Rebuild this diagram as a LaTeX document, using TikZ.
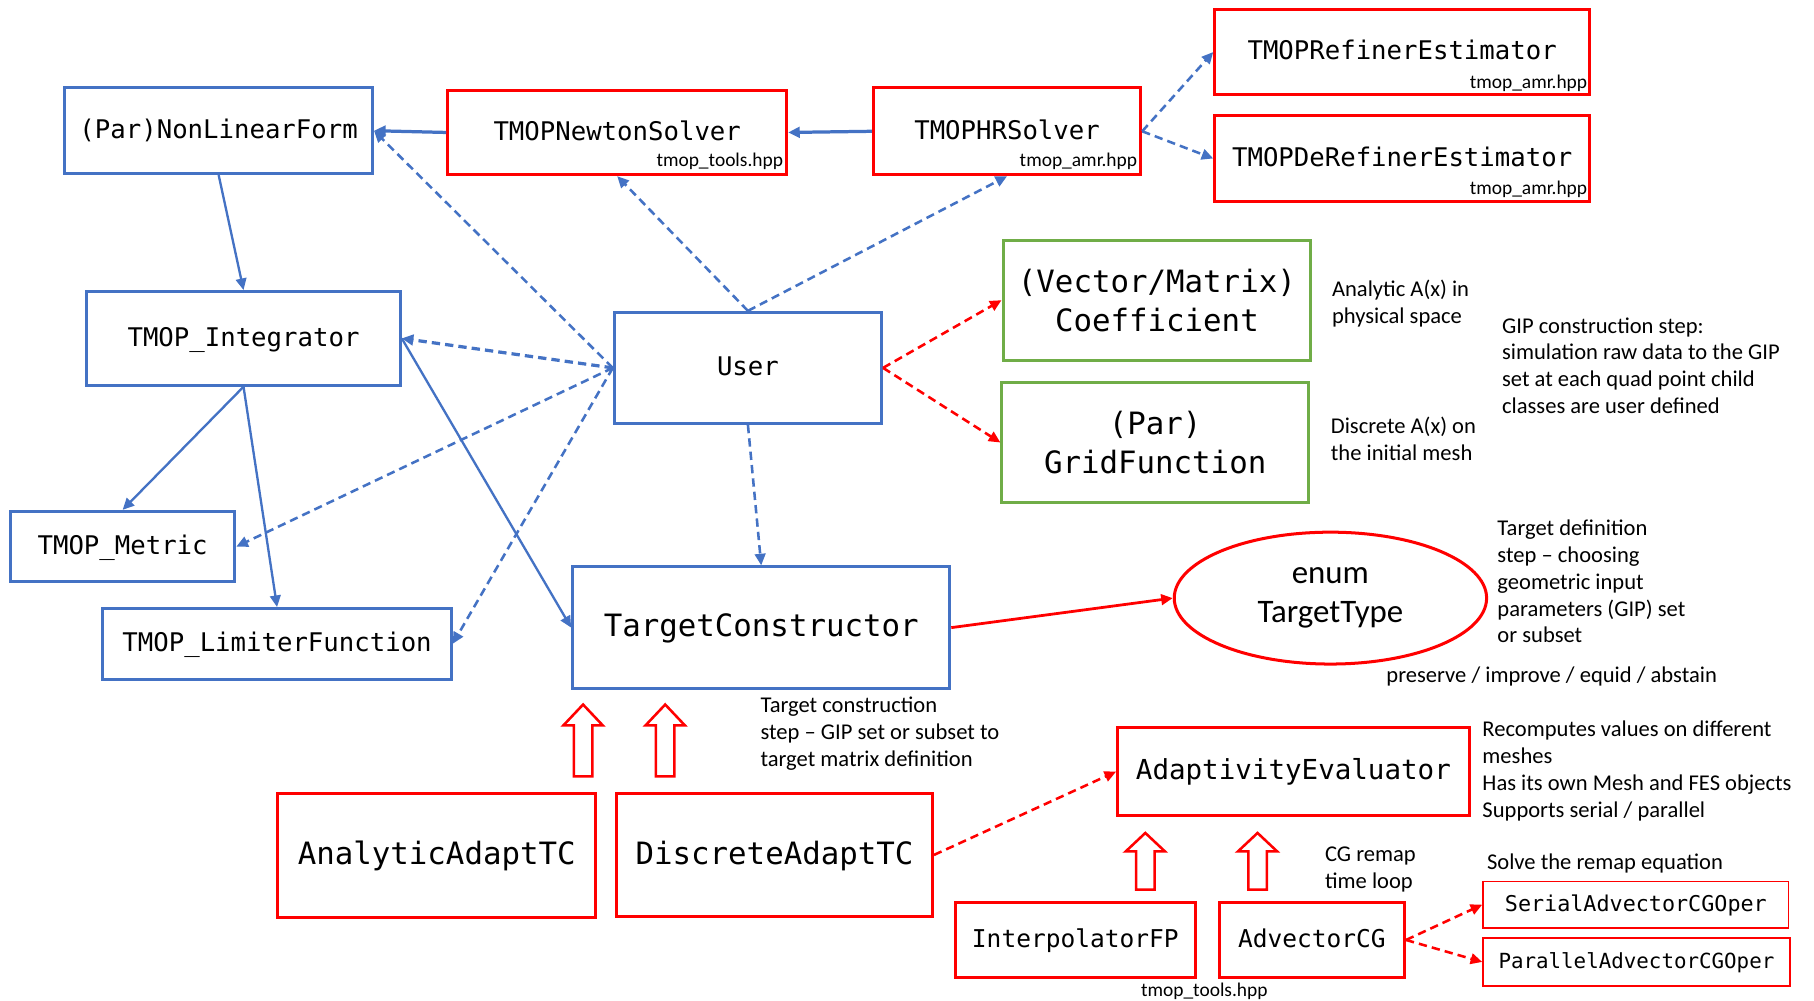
\documentclass[tikz,border=0pt]{standalone}
\usepackage{fontspec}
\setmainfont{Carlito}
\newfontfamily\codefont{DejaVu Sans Mono}
\usetikzlibrary{arrows.meta,shapes.geometric}

\definecolor{tblue}{RGB}{68,114,196}
\definecolor{tred}{RGB}{255,0,0}
\definecolor{tgreen}{RGB}{112,173,71}

% hollow block arrow pointing up: x, top, head base, bottom
\newcommand\blockup[4]{%
  \draw[tred, line width=1.1pt, line join=miter]
    (#1-8,#4) -- (#1-8,#3) -- (#1-17,#3) -- (#1,#2) -- (#1+17,#3)
    -- (#1+8,#3) -- (#1+8,#4) -- cycle;}

\begin{document}
\begin{tikzpicture}[x=0.5pt,y=-0.5pt,
  boxsize/.style 2 args={minimum width=#1*0.5pt, minimum height=#2*0.5pt},
  box/.style={draw, line width=1.3pt, inner sep=0pt, align=center, rectangle},
  bluebox/.style={box, draw=tblue},
  redbox/.style={box, draw=tred},
  greenbox/.style={box, draw=tgreen},
  % single-line code text: font size in pt, fixed line box
  code/.style={font=\codefont\fontsize{#1}{#1}\selectfont,
               text height=#1*0.78pt, text depth=#1*0.18pt},
  cmed/.style={code=11.1},
  clarge/.style={font=\codefont\fontsize{13.3}{17}\selectfont},
  file/.style={font=\fontsize{8.4}{10}\selectfont, inner sep=0pt},
  note/.style={font=\fontsize{9.75}{11.6}\selectfont, align=left, inner sep=0pt, anchor=north west},
  tip/.style={-{Triangle[length=5pt,width=4.6pt]}},
  bsolid/.style={tip, draw=tblue, line width=1pt},
  bdash/.style={tip, draw=tblue, line width=1.1pt, dash pattern=on 3.6pt off 2.2pt},
  rsolid/.style={tip, draw=tred, line width=1.2pt},
  rdash/.style={tip, draw=tred, line width=1.1pt, dash pattern=on 3.6pt off 2.2pt},
]
\fill[white] (0,0) rectangle (1568,865);
\useasboundingbox (0,0) rectangle (1568,865);

% ---- top row: forms and solvers
\node[bluebox, boxsize={266}{74}, cmed] (nlf) at (189,113) {(Par)NonLinearForm};
\node[redbox, boxsize={293}{73}, cmed] (newton) at (533.5,114.5) {TMOPNewtonSolver};
\node[redbox, boxsize={231}{75}, cmed] (hr) at (870.5,113.5) {TMOPHRSolver};
\node[redbox, boxsize={324}{74}, cmed] (refiner) at (1212,45) {TMOPRefinerEstimator};
\node[redbox, boxsize={324}{74}, cmed] (derefiner) at (1212,137) {TMOPDeRefinerEstimator};

\node[file, anchor=base east] (newtonfile) at ([shift={(-4,-8)}]newton.south east) {tmop\_tools.hpp};
\node[file, anchor=base east] (hrfile) at ([shift={(-4,-8)}]hr.south east) {tmop\_amr.hpp};
\node[file, anchor=base east] (refinerfile) at ([shift={(-3,-7)}]refiner.south east) {tmop\_amr.hpp};
\node[file, anchor=base east] (derefinerfile) at ([shift={(-3,-7)}]derefiner.south east) {tmop\_amr.hpp};

% ---- integrator side
\node[bluebox, boxsize={271}{81}, cmed] (integ) at (210.5,292.5) {TMOP\_Integrator};
\node[bluebox, boxsize={194}{61}, cmed] (metric) at (106,472.5) {TMOP\_Metric};
\node[bluebox, boxsize={301}{61}, cmed] (limiter) at (239.5,556.5) {TMOP\_LimiterFunction};

% ---- user and coefficients
\node[bluebox, boxsize={231}{96}, cmed] (user) at (646.5,318) {User};
\node[greenbox, boxsize={266}{104}, clarge] (coef) at (1000,259.5) {(Vector/Matrix)\\Coefficient};
\node[greenbox, boxsize={265}{104}, clarge] (grid) at (998.5,382.5) {(Par)\\GridFunction};

% ---- target construction
\node[bluebox, boxsize={326}{105}, code=13.3] (tc) at (658,542.5) {TargetConstructor};
\node[draw=tred, line width=1.3pt, ellipse, minimum width=135pt, minimum height=57pt,
      inner sep=0pt, align=center, font=\fontsize{14.2}{17}\selectfont] (ttype) at (1150,517) {enum\\TargetType};
\node[redbox, boxsize={275}{107}, code=13.3] (atc) at (377.5,739.5) {AnalyticAdaptTC};
\node[redbox, boxsize={273}{106}, code=13.3] (dtc) at (669.5,739) {DiscreteAdaptTC};

% ---- adaptivity evaluation
\node[redbox, boxsize={304}{76}, code=11.9] (ae) at (1118,667) {AdaptivityEvaluator};
\node[redbox, boxsize={207}{65}, code=10.6] (ifp) at (929.5,812.5) {InterpolatorFP};
\node[redbox, boxsize={160}{65}, code=10.6] (acg) at (1134,812.5) {AdvectorCG};
\node[redbox, line width=0.8pt, boxsize={264}{40}, code=9.4] (serial) at (1414,782) {SerialAdvectorCGOper};
\node[redbox, line width=0.8pt, boxsize={265}{41}, code=9] (parallel) at (1414.5,831.5) {ParallelAdvectorCGOper};
\node[file] (toolsfile) at (1041,857) {tmop\_tools.hpp};

% ---- notes
\node[note] (analyticnote) at (1151,242) {Analytic A(x) in\\physical space};
\node[note] (gipnote) at (1298,274) {GIP construction step:\\simulation raw data to the GIP\\set at each quad point child\\classes are user defined};
\node[note] (discretenote) at (1150,360) {Discrete A(x) on\\the initial mesh};
\node[note] (defnote) at (1294,449) {Target definition\\step -- choosing\\geometric input\\parameters (GIP) set\\or subset};
\node[note] (typesnote) at (1198,576) {preserve / improve / equid / abstain};
\node[note] (consnote) at (657,602) {Target construction\\step -- GIP set or subset to\\target matrix definition};
\node[note] (aenote) at (1281,623) {Recomputes values on different\\meshes\\Has its own Mesh and FES objects\\Supports serial / parallel};
\node[note] (cgnote) at (1145,732) {CG remap\\time loop};
\node[note] (solvenote) at (1285,738) {Solve the remap equation};

% ---- solid blue connectors
\draw[bsolid, line width=1.4pt] (newton.west) -- (nlf.east);
\draw[bsolid, line width=1.4pt] (hr.west) -- (newton.east);
\draw[bsolid] (nlf.south) -- (integ.north);
\draw[bsolid] (integ.south) -- (metric.north);
\draw[bsolid] (integ.south) -- (limiter.north);
\draw[bsolid] (integ.east) -- (tc.west);

% ---- dashed blue connectors
\draw[bdash] (user.west) -- (nlf.east);
\draw[bdash, line width=1.4pt] (user.west) -- (integ.east);
\draw[bdash] (user.west) -- (metric.east);
\draw[bdash] (user.west) -- (limiter.east);
\draw[bdash] (user.north) -- (newton.south);
\draw[bdash] (user.north) -- (hr.south);
\draw[bdash] (user.south) -- (tc.north);
\draw[bdash] (hr.east) -- (refiner.west);
\draw[bdash] (hr.east) -- (derefiner.west);

% ---- red connectors
\draw[rdash] (user.east) -- (coef.west);
\draw[rdash] (user.east) -- (grid.west);
\draw[rsolid] (tc.east) -- (ttype.west);
\draw[rdash] (dtc.east) -- (ae.west);
\draw[rdash] (acg.east) -- (serial.west);
\draw[rdash] (acg.east) -- (parallel.west);

% ---- inheritance block arrows
\blockup{504}{609}{627}{671}
\blockup{575}{609}{627}{671}
\blockup{990}{720}{736}{769}
\blockup{1087}{720}{736}{769}
\end{tikzpicture}
\end{document}
